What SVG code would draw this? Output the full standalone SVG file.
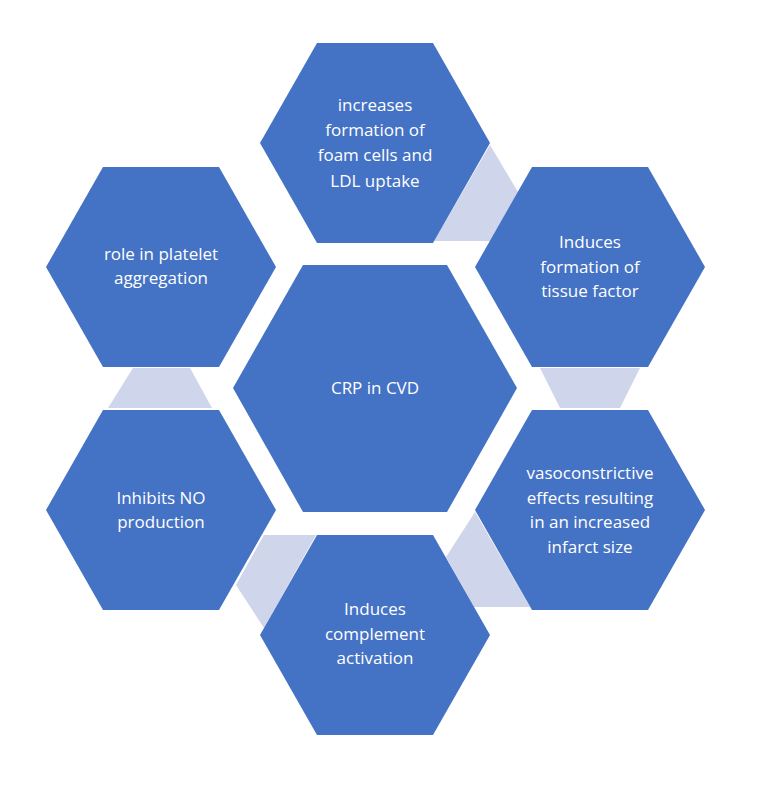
<svg xmlns="http://www.w3.org/2000/svg" width="758" height="793" viewBox="0 0 758 793">
<style>
.h{fill:#4472C4}
.c{fill:#CFD5EA}
text{font-family:"Open Sans","Liberation Sans",sans-serif;font-size:17px;fill:#fff;text-anchor:middle}
</style>
<rect width="758" height="793" fill="#fff"/>
<g id="connectors">
<polygon class="c" points="490,145 518,192 490,241 434,241"/>
<polygon class="c" points="540,368 640,368 620,408 560,408"/>
<polygon class="c" points="475,512 446,557 474,607 530,607"/>
<polygon class="c" points="264,535 316,535 264,628 236,585"/>
<polygon class="c" points="133,368 190,368 212,408 108,408"/>
</g>
<g id="center"><polygon class="h" points="233,388 303,265 447,265 517,388 447,512 303,512"/><text x="375" y="394">CRP in CVD</text></g>
<g id="top"><polygon class="h" points="260,143 317,43 433,43 490,143 433,243 317,243"/>
<text x="375" y="111">increases</text><text x="375" y="136">formation of</text><text x="375" y="161">foam cells and</text><text x="375" y="187">LDL uptake</text></g>
<g id="topright"><polygon class="h" points="475,267 532,167 648,167 705,267 648,367 532,367"/>
<text x="590" y="248">Induces</text><text x="590" y="273">formation of</text><text x="590" y="297">tissue factor</text></g>
<g id="lowerright"><polygon class="h" points="475,510 532,410 648,410 705,510 648,610 532,610"/>
<text x="590" y="479">vasoconstrictive</text><text x="590" y="504">effects resulting</text><text x="590" y="528">in an increased</text><text x="590" y="553">infarct size</text></g>
<g id="bottom"><polygon class="h" points="260,635 317,535 433,535 490,635 433,735 317,735"/>
<text x="375" y="615">Induces</text><text x="375" y="640">complement</text><text x="375" y="664">activation</text></g>
<g id="lowerleft"><polygon class="h" points="46,510 103,410 219,410 276,510 219,610 103,610"/>
<text x="161" y="504">Inhibits NO</text><text x="161" y="528">production</text></g>
<g id="upperleft"><polygon class="h" points="46,267 103,167 219,167 276,267 219,367 103,367"/>
<text x="161" y="260">role in platelet</text><text x="161" y="284">aggregation</text></g>
</svg>
